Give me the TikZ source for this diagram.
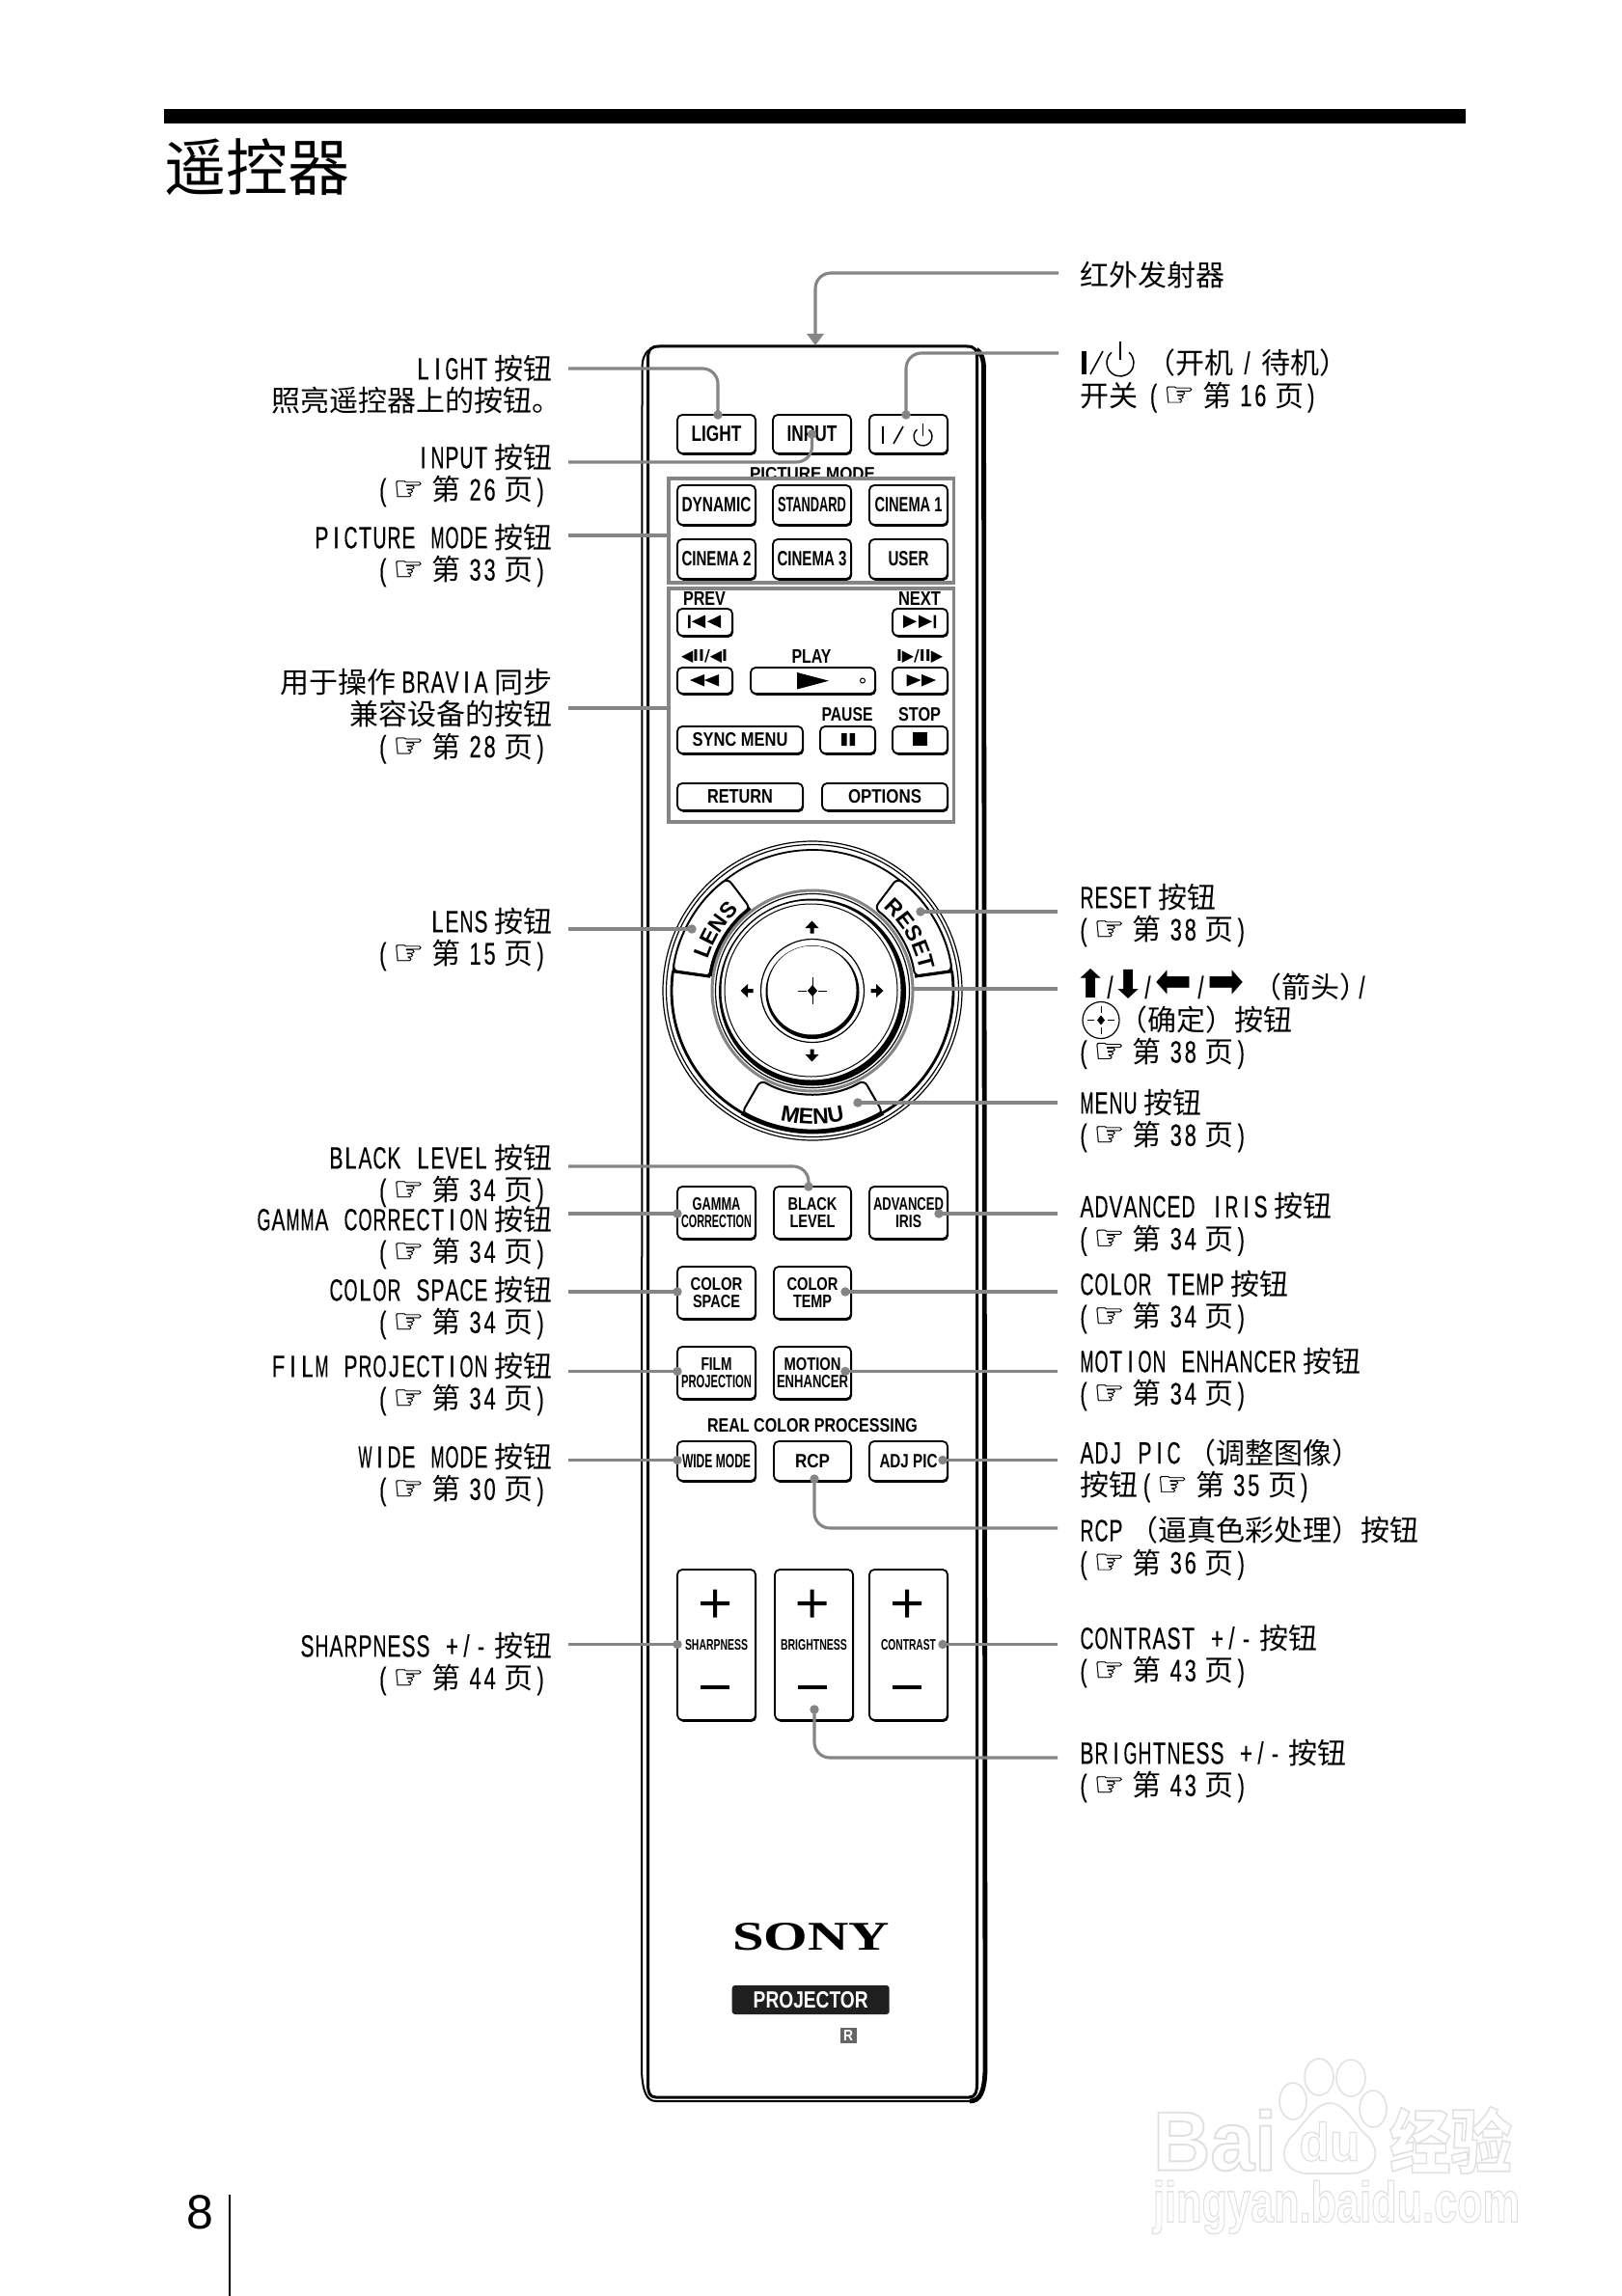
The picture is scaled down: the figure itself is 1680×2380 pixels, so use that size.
\documentclass[tikz,border=0pt]{standalone}
\usepackage{fontspec}
\usepackage{graphicx}
\usetikzlibrary{shadows,arrows.meta,decorations.text,calc}
\setmainfont{Noto Sans CJK SC}
\newfontfamily\latf[FakeStretch=.68,FakeBold=.25]{Liberation Sans}
\newfontfamily\btnf{Liberation Sans}
\newfontfamily\symf{DejaVu Sans}
\newfontfamily\handf[FakeBold=.5]{DejaVu Sans}
\newfontfamily\serf{Liberation Serif}
\newlength\pxu \setlength\pxu{0.5pt}
\newcommand\cellb[1]{\sbox0{#1}\makebox[7.5pt][c]{\ifdim\wd0>7pt\resizebox{7pt}{\height}{#1}\else\copy0\fi}}
\ExplSyntaxOn
\NewDocumentCommand\lat{m}{
  \group_begin: \latf\fontsize{16}{16.7}\selectfont
  \tl_set:Nn \l_tmpa_tl {#1}
  \tl_replace_all:Nnn \l_tmpa_tl {~} {\relax}
  \tl_map_inline:Nn \l_tmpa_tl { \cellb{##1} }
  \group_end:
}
\ExplSyntaxOff
\newcommand\ggap{\hspace{3pt}}
\newcommand\hand{{\handf\fontsize{18}{16.7}\selectfont ☞}}
\newcommand\pgr[1]{\lat{(}\hspace{1.5pt}\hand\hspace{4pt}第\hspace{3.75pt}\lat{#1}\hspace{3.75pt}页\lat{)}}
\newcommand\rpg[1]{\kern-1.75pt\pgr{#1}}
\newcommand\btxt[3]{\resizebox{#1\pxu}{#2\pxu}{\btnf\bfseries #3}}
\newcommand\sy[4]{\makebox[#1pt][c]{\smash{\scalebox{#2}[#3]{\symf\fontsize{16}{16.7}\selectfont #4}}}}
\newcommand\outl[1]{\special{pdf:code q 1 Tr 0.22 w 0.88 G}#1\special{pdf:code Q}}
\definecolor{conncol}{HTML}{858585}
\definecolor{wml}{HTML}{E2E2E2}
\tikzset{
  lblbase/.style={inner sep=0,outer sep=0,yshift=-1pt,font=\fontsize{15}{16.7}\selectfont,execute at begin node={\rule{0pt}{13.5pt}}},
  leftlab/.style={lblbase,anchor=north east,align=right},
  rightlab/.style={lblbase,anchor=north west,align=left},
  btn/.style={draw=black,fill=white,line width=0.9pt,rounded corners=2.5pt,inner sep=0,outer sep=0,align=center,
    font=\fontsize{8}{9}\selectfont,
    general shadow={shadow xshift=.5pt,shadow yshift=-.9pt,fill=black}},
  capt/.style={inner sep=0,outer sep=0,font=\fontsize{8}{9}\selectfont},
  frameb/.style={draw=conncol,fill=white,line width=1.9pt,inner sep=0,outer sep=0},
  conn/.style={draw=conncol,line width=1.55pt,rounded corners=8pt,-{Circle[length=4.6pt]},shorten >=-2.3pt},
  plainconn/.style={draw=conncol,line width=1.55pt},
}
\newcommand\Btn[6]{\node (#1) [btn,minimum width={(#4-#2)*0.5pt},minimum height={(#5-#3)*0.5pt}] at ({(#2+#4)/2},{(#3+#5)/2}) {#6};}
\newcommand\Frm[5]{\node (#1) [frameb,minimum width={(#4-#2)*0.5pt},minimum height={(#5-#3)*0.5pt}] at ({(#2+#4)/2},{(#3+#5)/2}) {};}
\newcommand\DArrow[3]{\fill[shift={(#1,#2)},rotate=#3] (0,-6.5)--(7,1)--(2,1)--(2,6.5)--(-2,6.5)--(-2,1)--(-7,1)--cycle;}
\newcommand\Seg[2]{\path[draw=black,fill=white,line width=1pt,rounded corners=3pt] (#1:146) arc[start angle=#1,end angle=#2,radius=146] -- (#2:107) arc[start angle=#2,end angle=#1,radius=107] -- cycle;}
\begin{document}
\begin{tikzpicture}[x=0.5pt,y=-0.5pt]
\useasboundingbox (0,0) rectangle (1680,2380);
\fill[white] (0,0) rectangle (1680,2380);
% header
\fill[black] (170,113) rectangle (1519,128);
\node (title) [inner sep=0,anchor=base west] at (170,198) {\fontsize{32}{36}\selectfont 遥控器};
\node (pageno) [inner sep=0] at (207,2293) {\btnf\fontsize{25}{28}\selectfont 8};
\draw[line width=0.8pt] (238,2275) -- (238,2380);
% watermark
\node (wmbai) [inner sep=0] at (1259,2218.5) {\resizebox{128\pxu}{63\pxu}{\outl{\btnf\bfseries Bai}}};
\foreach \a/\b/\c/\d in {1340/2178/14/19,1367/2153/15/19,1400/2154/15/19,1423/2186/14/19}
  \draw[wml,line width=.8pt] (\a,\b) ellipse[x radius=\c,y radius=\d];
\draw[wml,line width=.8pt] (1378,2180) .. controls (1395,2180) and (1405,2205) .. (1418,2215) .. controls (1435,2235) and (1420,2253) .. (1400,2253) -- (1356,2253) .. controls (1335,2253) and (1322,2235) .. (1338,2215) .. controls (1350,2205) and (1362,2180) .. (1378,2180);
\node (wmdu) [inner sep=0] at (1378,2220) {\resizebox{63\pxu}{40\pxu}{\outl{\btnf\bfseries du}}};
\node (wmjy) [inner sep=0] at (1503.5,2218.5) {\resizebox{127\pxu}{63\pxu}{\outl{\bfseries 经验}}};
\node (wmurl) [inner sep=0] at (1385,2288) {\resizebox{380\pxu}{43\pxu}{\outl{\btnf\bfseries jingyan.baidu.com}}};
% remote body
\draw[line width=1.5pt] (671.5,2160) -- (671.5,372) .. controls (671.5,362) and (675,359) .. (683,359) -- (1002,359) .. controls (1010,359) and (1012.5,362) .. (1012.5,372) -- (1012.5,2160) .. controls (1012.5,2170) and (1010,2174) .. (1004,2174) -- (680,2174) .. controls (674,2174) and (671.5,2170) .. (671.5,2160);
\draw[line width=1pt] (672,363) .. controls (668,367) and (665.5,372) .. (665.5,382) -- (665,2147) .. controls (666,2168) and (670,2178) .. (680,2178) -- (1005,2178);
\draw[line width=2.4pt] (1005,2178) .. controls (1016,2178) and (1020,2168) .. (1021,2147) -- (1019.5,382) .. controls (1019.5,372) and (1017,366) .. (1012,362);
% top buttons
\Btn{light}{702}{430}{783}{470}{\btxt{52}{16}{LIGHT}}
\Btn{input}{801}{430}{882}{470}{\btxt{52}{16}{INPUT}}
\Btn{power}{901}{430}{982}{470}{}
\draw[line width=.8pt] (915,442) -- (915,460) (926,460) -- (936,442);
\draw[line width=.7pt] ([shift={(-50:9.5)}]956.5,452.5) arc[start angle=-50,end angle=230,radius=9.5];
\draw[line width=.7pt] (956.5,439) -- (956.5,452);
% picture mode
\node (pmcap) [capt,anchor=base] at (842,497) {\btxt{130}{13}{PICTURE MODE}};
\Frm{framepm}{693}{496}{988.5}{604}
\Btn{dynamic}{702}{503}{783}{544}{\btxt{72}{15}{DYNAMIC}}
\Btn{standard}{801}{503}{882}{544}{\btxt{71}{15}{STANDARD}}
\Btn{cinemaa}{901}{503}{982}{544}{\btxt{70}{15}{CINEMA 1}}
\Btn{cinemab}{702}{559}{783}{600}{\btxt{72}{15}{CINEMA 2}}
\Btn{cinemac}{801}{559}{882}{600}{\btxt{72}{15}{CINEMA 3}}
\Btn{user}{901}{559}{982}{600}{\btxt{42}{15}{USER}}
% bravia frame
\Frm{framebr}{693}{610}{988.5}{852}
\node (prev) [capt] at (730,620) {\btxt{44}{14}{PREV}};
\node (next) [capt] at (953,620) {\btxt{44}{14}{NEXT}};
\Btn{bprev}{702}{631}{759}{659}{}
\fill (713,637.5) rectangle (715.5,651) (717,644.3)--(731,637.5)--(731,651)--cycle (733,644.3)--(747,637.5)--(747,651)--cycle;
\Btn{bnext}{925}{631}{982}{659}{}
\fill (970,637.5) rectangle (967.5,651) (966,644.3)--(952,637.5)--(952,651)--cycle (950,644.3)--(936,637.5)--(936,651)--cycle;
\node (slowl) [capt] at (730,681) {\resizebox{48\pxu}{12\pxu}{\symf\bfseries ◀II/◀I}};
\node (playcap) [capt] at (841,680) {\btxt{41}{14}{PLAY}};
\node (slowr) [capt] at (953,681) {\resizebox{48\pxu}{12\pxu}{\symf\bfseries I▶/II▶}};
\Btn{rew}{702}{692}{759}{719}{}
\fill (715,705)--(730,699)--(730,711.5)--cycle (730,705)--(745,699)--(745,711.5)--cycle;
\Btn{play}{778}{692}{907}{719}{}
\fill (826,697)--(859,705.7)--(826,714.5)--cycle;
\draw[line width=.5pt] (894,705.5) circle[radius=2.5];
\Btn{ffwd}{925}{692}{982}{719}{}
\fill (939.5,699)--(954.5,705)--(939.5,711.5)--cycle (955,699)--(970,705)--(955,711.5)--cycle;
\node (pausecap) [capt] at (878,741) {\btxt{53}{14}{PAUSE}};
\node (stopcap) [capt] at (953,741) {\btxt{44}{14}{STOP}};
\Btn{sync}{702}{753}{832}{781}{\btxt{99}{14}{SYNC MENU}}
\Btn{pause}{850}{753}{907}{781}{}
\fill (872,760) rectangle (877.5,773) (880.5,760) rectangle (886,773);
\Btn{stop}{925}{753}{982}{781}{}
\fill (945.5,759) rectangle (960.5,773);
\Btn{return}{702}{812}{832}{840}{\btxt{68}{14}{RETURN}}
\Btn{options}{852}{812}{982}{840}{\btxt{76}{14}{OPTIONS}}
% dial
\begin{scope}[shift={(842,1027)},yscale=-1]
\draw[line width=.6pt] (0,0) circle[radius=155];
\draw[line width=.6pt] (0,0) circle[radius=151.5];
\draw[line width=.9pt] (0,0) circle[radius=146];
\draw[line width=1.4pt] (172:146) arc[start angle=172,end angle=240,radius=146];
\draw[line width=1.4pt] (-60:146) arc[start angle=-60,end angle=8,radius=146];
\Seg{127}{172}
\Seg{8}{53}
\Seg{240}{300}
\draw[line width=2pt] (127:107) arc[start angle=127,end angle=172,radius=107];
\draw[line width=1.6pt] (172:146) -- (172:107);
\draw[line width=1.6pt] (8:146) -- (8:107);
\draw[line width=2.4pt] (240:146) arc[start angle=240,end angle=300,radius=146];
\fill[white] (0,0) circle[radius=105];
\draw[conncol,line width=1.5pt] (0,0) circle[radius=104];
\draw[line width=.6pt] (0,0) circle[radius=100.5];
\fill (0,-1.5) circle[radius=97];
\fill[white] (-1.5,.5) circle[radius=93];
\draw[line width=.5pt] (-1.5,.5) circle[radius=89.5];
\draw[line width=.6pt] (0,0) circle[radius=53.5];
\fill (0,-1.5) circle[radius=48.5];
\fill[white] (-.5,.5) circle[radius=46];
\fill (-5,0)--(0,6)--(5,0)--(0,-6)--cycle;
\draw[line width=.5pt] (0,14) -- (0,5) (0,-5) -- (0,-14) (-15,0) -- (-6,0) (6,0) -- (15,0);
\end{scope}
\DArrow{841.5}{961}{0}
\DArrow{841.5}{1094}{180}
\DArrow{774}{1027}{90}
\DArrow{909}{1027}{-90}
\path[decorate,decoration={text along path,text={|\btnf\bfseries\fontsize{11.5}{12}\selectfont|LENS},text align=center}] plot[domain=178:118,samples=41] ({842+113*cos(\x)},{1027-113*sin(\x)});
\path[decorate,decoration={text along path,text={|\btnf\bfseries\fontsize{11.5}{12}\selectfont|RESET},text align=center}] plot[domain=62:-2,samples=41] ({842+113*cos(\x)},{1027-113*sin(\x)});
\path[decorate,decoration={text along path,text={|\btnf\bfseries\fontsize{11.5}{12}\selectfont|MENU},text align=center}] plot[domain=245:295,samples=41] ({842+138*cos(\x)},{1027-138*sin(\x)});
% lower buttons
\Btn{gamma}{702}{1230}{783}{1284}{\btxt{50}{13}{GAMMA}\\\btxt{73}{13}{CORRECTION}}
\Btn{black}{802}{1230}{882}{1284}{\btxt{51}{13}{BLACK}\\\btxt{47}{13}{LEVEL}}
\Btn{adv}{901}{1230}{982}{1284}{\btxt{73}{13}{ADVANCED}\\\btxt{27}{13}{IRIS}}
\Btn{cspace}{702}{1313}{783}{1367}{\btxt{54}{13}{COLOR}\\\btxt{49}{13}{SPACE}}
\Btn{ctemp}{802}{1313}{882}{1367}{\btxt{53}{13}{COLOR}\\\btxt{40}{13}{TEMP}}
\Btn{film}{702}{1396}{783}{1450}{\btxt{32}{13}{FILM}\\\btxt{73}{13}{PROJECTION}}
\Btn{motion}{802}{1396}{882}{1450}{\btxt{59}{13}{MOTION}\\\btxt{74}{13}{ENHANCER}}
\node (rcpcap) [capt] at (842,1478) {\btxt{218}{14}{REAL COLOR PROCESSING}};
\Btn{wide}{702}{1494}{783}{1535}{\btxt{71}{14}{WIDE MODE}}
\Btn{rcp}{802}{1494}{882}{1535}{\btxt{36}{14}{RCP}}
\Btn{adj}{901}{1494}{982}{1535}{\btxt{60}{14}{ADJ PIC}}
\Btn{sharp}{702}{1627}{783}{1783}{\btxt{65}{11}{SHARPNESS}}
\Btn{bright}{803}{1627}{884}{1783}{\btxt{69}{11}{BRIGHTNESS}}
\Btn{contrast}{901}{1627}{982}{1783}{\btxt{57}{11}{CONTRAST}}
\foreach \c in {741,841.7,940} {
  \fill (\c-15,1660) rectangle (\c+15,1664) (\c-2,1647.5) rectangle (\c+2,1676.5);
  \fill (\c-15,1746.5) rectangle (\c+15,1750.5);
}
% logo
\node (sony) [inner sep=0] at (840.5,2007.5) {\resizebox{163\pxu}{28\pxu}{\serf\bfseries SONY}};
\node (proj) [inner sep=0,fill=black!88,rounded corners=1.5pt,minimum width=81.5pt,minimum height=15pt,text=white] at (840.2,2073) {\btxt{119}{17}{PROJECTOR}};
\node (rmark) [inner sep=0,fill=black!60,minimum width=8.5pt,minimum height=8.2pt,text=white] at (879.2,2110) {\btxt{10}{11}{R}};
% left labels
\node (lLight) [leftlab] at (572,366) {\lat{LIGHT}\ggap 按钮\\照亮遥控器上的按钮。\kern-4.5pt};
\node (lInput) [leftlab] at (572,458) {\lat{INPUT}\ggap 按钮\\\pgr{26}\kern2.2pt};
\node (lPm) [leftlab] at (572,541) {\lat{PICTURE MODE}\ggap 按钮\\\pgr{33}\kern2.2pt};
\node (lBravia) [leftlab] at (572,691) {用于操作\ggap\lat{BRAVIA}\ggap 同步\\兼容设备的按钮\\\pgr{28}\kern2.2pt};
\node (lLens) [leftlab] at (572,939) {\lat{LENS}\ggap 按钮\\\pgr{15}\kern2.2pt};
\node (lBlack) [leftlab] at (572,1184) {\lat{BLACK LEVEL}\ggap 按钮\\\pgr{34}\kern2.2pt};
\node (lGamma) [leftlab] at (572,1248) {\lat{GAMMA CORRECTION}\ggap 按钮\\\pgr{34}\kern2.2pt};
\node (lCspace) [leftlab] at (572,1321) {\lat{COLOR SPACE}\ggap 按钮\\\pgr{34}\kern2.2pt};
\node (lFilm) [leftlab] at (572,1400) {\lat{FILM PROJECTION}\ggap 按钮\\\pgr{34}\kern2.2pt};
\node (lWide) [leftlab] at (572,1494) {\lat{WIDE MODE}\ggap 按钮\\\pgr{30}\kern2.2pt};
\node (lSharp) [leftlab] at (572,1690) {\lat{SHARPNESS +/-}\ggap 按钮\\\pgr{44}\kern2.2pt};
% right labels
\node (rIr) [rightlab] at (1119,268) {红外发射器};
\node (rPower) [rightlab] at (1119,360) {\hspace{34.5pt}（开机\hspace{3.5pt}\lat{/}\hspace{3.5pt}待机）\\开关\hspace{4.5pt}\pgr{16}};
\node (rReset) [rightlab] at (1119,914) {\lat{RESET}\ggap 按钮\\\rpg{38}};
\node (rArrows) [rightlab] at (1119,1007) {\sy{12}{1.35}{1.25}{⬆}\lat{/}\sy{12}{1.35}{1.25}{⬇}\lat{/}\sy{20}{1.42}{1.6}{⬅}\lat{/}\sy{19}{1.42}{1.6}{➡}\hspace{4pt}（箭头）\kern-7pt\lat{/}\\\hspace{20pt}（确定）按钮\\\rpg{38}};
\node (rMenu) [rightlab] at (1119,1127) {\lat{MENU}\ggap 按钮\\\rpg{38}};
\node (rAdv) [rightlab] at (1119,1234.5) {\lat{ADVANCED IRIS}\ggap 按钮\\\rpg{34}};
\node (rCtemp) [rightlab] at (1119,1315) {\lat{COLOR TEMP}\ggap 按钮\\\rpg{34}};
\node (rMotion) [rightlab] at (1119,1395) {\lat{MOTION ENHANCER}\ggap 按钮\\\rpg{34}};
\node (rAdj) [rightlab] at (1119,1489.5) {\lat{ADJ PIC}\ggap（调整图像）\\按钮\hspace{1pt}\pgr{35}};
\node (rRcp) [rightlab] at (1119,1570) {\lat{RCP}\ggap（逼真色彩处理）按钮\\\rpg{36}};
\node (rContrast) [rightlab] at (1119,1682) {\lat{CONTRAST +/-}\ggap 按钮\\\rpg{43}};
\node (rBright) [rightlab] at (1119,1801) {\lat{BRIGHTNESS +/-}\ggap 按钮\\\rpg{43}};
% symbols in right labels
\fill (1121,364) rectangle (1126,388);
\draw[line width=.8pt] (1130,388) -- (1143,364);
\draw[line width=.75pt] ([shift={(-50:14)}]1161,376) arc[start angle=-50,end angle=230,radius=14];
\draw[line width=.75pt] (1161,354) -- (1161,373);
\draw[line width=.6pt] (1141,1057.5) circle[x radius=19,y radius=19];
\fill (1137,1057.5)--(1141,1052.5)--(1145,1057.5)--(1141,1062.5)--cycle;
\draw[line width=.5pt] (1141,1043) -- (1141,1050) (1141,1065) -- (1141,1072) (1127,1057.5) -- (1134,1057.5) (1148,1057.5) -- (1155,1057.5);
% free ends
\foreach \n/\x/\y in {cIr/1097/283,cPower/1097/366,cLight/589/382,cInput/589/479,cPm/589/555,cBravia/589/734,cLens/589/963,cReset/1096/945,cArrows/1096/1025,cMenu/1096/1143,cBlack/589/1209,cGamma/589/1258,cCspace/589/1339,cFilm/589/1421.5,cWide/589/1513.5,cSharp/589/1704.5,cAdv/1096/1258,cCtemp/1096/1339,cMotion/1096/1421.5,cAdj/1096/1513.5,cRcp/1096/1584,cContrast/1096/1704.5,cBright/1096/1822,cIrTip/845/358,cLensDot/717/963,cResetDot/954/945,cMenuDot/889/1143,cRing/947/1025}
  \coordinate (\n) at (\x,\y);
% connectors
\draw[draw=conncol,line width=1.55pt,rounded corners=8pt,-{Triangle[length=6pt,width=8.5pt]},conncol] (cIr) -| (cIrTip);
\draw[conn] (cPower) -| ($(power.north)+(-2.5,0)$);
\draw[conn] (cLight) -| ($(light.north)+(1.5,0)$);
\draw[conn] (cInput) -| (input.center);
\draw[plainconn] (cPm) -- (cPm -| framepm.west);
\draw[plainconn] (cBravia) -- (cBravia -| framebr.west);
\draw[conn] (cLens) -- (cLensDot);
\draw[conn] (cReset) -- (cResetDot);
\draw[plainconn] (cArrows) -- (cRing);
\draw[conn] (cMenu) -- (cMenuDot);
\draw[conn] (cBlack) -| ($(black.north)+(-4,0)$);
\draw[conn] (cGamma) -- (cGamma -| gamma.west);
\draw[conn] (cCspace) -- (cCspace -| cspace.west);
\draw[conn] (cFilm) -- (cFilm -| film.west);
\draw[conn] (cWide) -- (cWide -| wide.west);
\draw[conn] (cSharp) -- (cSharp -| sharp.west);
\draw[conn] (cAdv) -- ($(cAdv -| adv.east)+(-9,0)$);
\draw[conn] (cCtemp) -- ($(cCtemp -| ctemp.east)+(-6,0)$);
\draw[conn] (cMotion) -- ($(cMotion -| motion.east)+(-6,0)$);
\draw[conn] (cAdj) -- ($(cAdj -| adj.east)+(-5,0)$);
\draw[conn] (cRcp) -| ($(rcp.south)+(2,-2)$);
\draw[conn] (cContrast) -- ($(cContrast -| contrast.east)+(-5,0)$);
\draw[conn] (cBright) -| ($(bright.south)+(0.5,-11)$);
\end{tikzpicture}
\end{document}
